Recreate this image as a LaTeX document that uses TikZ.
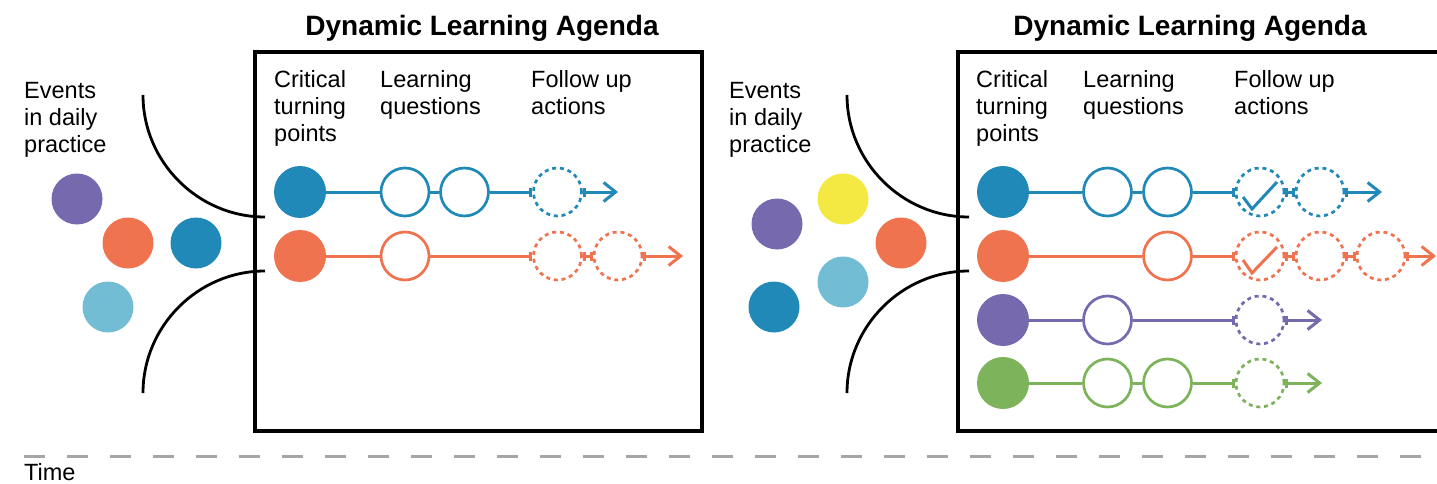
\documentclass[tikz,border=0pt]{standalone}
\usepackage{fontspec}
\setmainfont{Liberation Sans}
\usetikzlibrary{arrows.meta}

\definecolor{cblue}{RGB}{33,137,184}
\definecolor{corange}{RGB}{240,115,80}
\definecolor{cpurple}{RGB}{118,105,174}
\definecolor{clight}{RGB}{114,189,211}
\definecolor{cyellow}{RGB}{244,232,66}
\definecolor{cgreen}{RGB}{125,179,90}

\tikzset{
  ev/.style={circle,minimum size=51pt,inner sep=0pt},
  tp/.style={circle,minimum size=52pt,inner sep=0pt},
  lq/.style={circle,draw,fill=white,line width=2.7pt,minimum size=48pt,inner sep=0pt},
  fu/.style={circle,draw,line width=2.7pt,dash pattern=on 4pt off 3.8pt,minimum size=48pt,inner sep=0pt},
  link/.style={line width=3pt},
  intolink/.style={link,-{Bar[width=9pt]}},
  barlink/.style={link,{Bar[width=9pt]}-{Bar[width=9pt]}},
  outlink/.style={link,{Bar[width=9pt]}-{Straight Barb[length=12pt,width=19pt]}},
  txt/.style={font=\fontsize{23.5}{27}\selectfont,align=left,inner sep=0pt},
  heading/.style={font=\bfseries\fontsize{28}{32}\selectfont,inner sep=0pt,anchor=base},
  funnel/.style={line width=2.8pt},
  frame/.style={line width=3.2pt}
}

\begin{document}
\begin{tikzpicture}[x=1pt,y=-1pt]
    \useasboundingbox (0,0) rectangle (1437,484);

    \node[heading] (titleA) at (482,36) {Dynamic Learning Agenda};
    \node[heading] (titleB) at (1190,36) {Dynamic Learning Agenda};
    \draw[frame] (255,52) rectangle (702,431);
    \draw[frame] (1437,52) -| (958,431) -- (1437,431);

    \node[txt,anchor=north west] (eventsA) at (24,82) {Events\\in daily\\practice};
    \node[txt,anchor=north west] (critA) at (274,70) {Critical\\turning\\points};
    \node[txt,anchor=north west] (learnA) at (380,70) {Learning\\questions};
    \node[txt,anchor=north west] (followA) at (531,70) {Follow up\\actions};
    \node[txt,anchor=north west] (eventsB) at (729,82) {Events\\in daily\\practice};
    \node[txt,anchor=north west] (critB) at (976,70) {Critical\\turning\\points};
    \node[txt,anchor=north west] (learnB) at (1083,70) {Learning\\questions};
    \node[txt,anchor=north west] (followB) at (1234,70) {Follow up\\actions};

    \draw[funnel] (143,95) .. controls (143,162) and (198,217) .. (265,217)
      (265,271) .. controls (198,271) and (143,326) .. (143,393);
    \draw[funnel] (847,95) .. controls (847,162) and (902,217) .. (969,217)
      (969,271) .. controls (902,271) and (847,326) .. (847,393);

    \node[ev,fill=cpurple] (e1) at (77,199) {};
    \node[ev,fill=corange] (e2) at (128,243) {};
    \node[ev,fill=cblue] (e3) at (196,243) {};
    \node[ev,fill=clight] (e4) at (108,307) {};

    \node[ev,fill=cpurple] (f1) at (777,224) {};
    \node[ev,fill=cyellow] (f2) at (843,199) {};
    \node[ev,fill=corange] (f3) at (901,243) {};
    \node[ev,fill=clight] (f4) at (843,282) {};
    \node[ev,fill=cblue] (f5) at (774,307) {};

    \scope[cblue]
    \node[tp,fill=cblue] (a1) at (300,192) {};
    \node[lq] (a1q1) at (405,192) {};
    \node[lq] (a1q2) at (464.5,192) {};
    \node[fu] (a1f1) at (557.5,192) {};
    \coordinate (a1e) at (618,192);
    \draw[link] (a1) -- (a1q1) (a1q1) -- (a1q2);
    \draw[intolink] (a1q2) -- (a1f1);
    \draw[outlink] (a1f1) -- (a1e);
    \endscope

    \scope[corange]
    \node[tp,fill=corange] (a2) at (300,256) {};
    \node[lq] (a2q1) at (405,256) {};
    \node[fu] (a2f1) at (557.5,256) {};
    \node[fu] (a2f2) at (618,256) {};
    \coordinate (a2e) at (683,256);
    \draw[link] (a2) -- (a2q1);
    \draw[intolink] (a2q1) -- (a2f1);
    \draw[barlink] (a2f1) -- (a2f2);
    \draw[outlink] (a2f2) -- (a2e);
    \endscope

    \scope[cblue]
    \node[tp,fill=cblue] (b1) at (1003,192) {};
    \node[lq] (b1q1) at (1107.5,192) {};
    \node[lq] (b1q2) at (1167.5,192) {};
    \node[fu] (b1f1) at (1260,192) {};
    \node[fu] (b1f2) at (1320,192) {};
    \coordinate (b1e) at (1382,192);
    \draw[link] (b1) -- (b1q1) (b1q1) -- (b1q2);
    \draw[intolink] (b1q2) -- (b1f1);
    \draw[barlink] (b1f1) -- (b1f2);
    \draw[outlink] (b1f2) -- (b1e);
    \draw[link] ([shift={(-17,5)}]b1f1.center) -- ([shift={(-8,17)}]b1f1.center)
      -- ([shift={(17,-10)}]b1f1.center);
    \endscope

    \scope[corange]
    \node[tp,fill=corange] (b2) at (1003,256) {};
    \node[lq] (b2q2) at (1167.5,256) {};
    \node[fu] (b2f1) at (1260,256) {};
    \node[fu] (b2f2) at (1320,256) {};
    \node[fu] (b2f3) at (1381,256) {};
    \coordinate (b2e) at (1436,256);
    \draw[link] (b2) -- (b2q2);
    \draw[intolink] (b2q2) -- (b2f1);
    \draw[barlink] (b2f1) -- (b2f2);
    \draw[barlink] (b2f2) -- (b2f3);
    \draw[outlink] (b2f3) -- (b2e);
    \draw[link] ([shift={(-17,4)}]b2f1.center) -- ([shift={(-8,17)}]b2f1.center)
      -- ([shift={(17,-9)}]b2f1.center);
    \endscope

    \scope[cpurple]
    \node[tp,fill=cpurple] (b3) at (1003,320) {};
    \node[lq] (b3q1) at (1107.5,320) {};
    \node[fu] (b3f1) at (1260,320) {};
    \coordinate (b3e) at (1322,320);
    \draw[link] (b3) -- (b3q1);
    \draw[intolink] (b3q1) -- (b3f1);
    \draw[outlink] (b3f1) -- (b3e);
    \endscope

    \scope[cgreen]
    \node[tp,fill=cgreen] (b4) at (1003,383) {};
    \node[lq] (b4q1) at (1107.5,383) {};
    \node[lq] (b4q2) at (1167.5,383) {};
    \node[fu] (b4f1) at (1260,383) {};
    \coordinate (b4e) at (1322,383);
    \draw[link] (b4) -- (b4q1) (b4q1) -- (b4q2);
    \draw[intolink] (b4q2) -- (b4f1);
    \draw[outlink] (b4f1) -- (b4e);
    \endscope

    \coordinate (t0) at (24,456);
    \coordinate (t1) at (1437,456);
    \draw[line width=3pt,black!35,dash pattern=on 21pt off 22pt] (t0) -- (t1);
    \node[txt,anchor=base west] (time) at (24,480) {Time};
\end{tikzpicture}
\end{document}
